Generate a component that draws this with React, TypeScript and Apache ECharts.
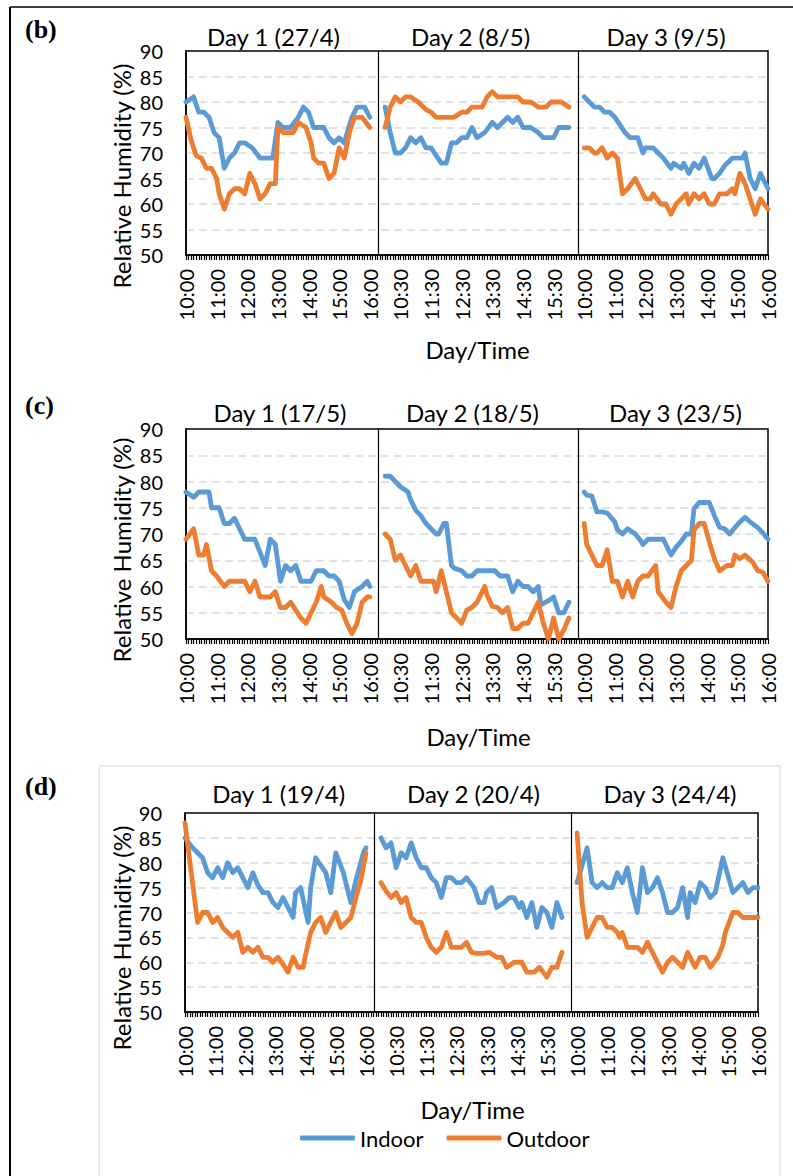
import React, { useEffect, useRef } from 'react';
import * as echarts from 'echarts';

// x positions are 5-minute slot indices on a shared axis:
// day 1 = 0..72 (10:00-16:00), day 2 = 78..150, day 3 = 156..228
const xTickLabels = ['10:00', '11:00', '12:00', '13:00', '14:00', '15:00', '16:00',
  '10:30', '11:30', '12:30', '13:30', '14:30', '15:30',
  '10:00', '11:00', '12:00', '13:00', '14:00', '15:00', '16:00'];
const seriesNames = ['Indoor', 'Outdoor'];
const titlesB = ['Day 1 (27/4)', 'Day 2 (8/5)', 'Day 3 (9/5)'];
const titlesC = ['Day 1 (17/5)', 'Day 2 (18/5)', 'Day 3 (23/5)'];
const titlesD = ['Day 1 (19/4)', 'Day 2 (20/4)', 'Day 3 (24/4)'];
const dividers = [75.5, 153.5];

// ---------- (b) ----------
const bIn1 = [[0,80],[3,81],[5,78],[7,78],[9,77],[11,74],[13,73],[15,67],[17,69],[19,70],[21,72],[23,72],[26,71],[29,69],[34,69],[36,76],[38,75],[41,75],[44,77],[46,79],[48,78],[50,75],[54,75],[56,73],[58,72],[60,73],[62,72],[65,77],[67,79],[70,79],[72,77]];
const bOut1 = [[0,77],[2,72.5],[4,69.5],[6,69],[8,67],[10,67],[12,65],[13,62],[15,59],[17,62],[19,63],[21,63],[23,62],[25,66],[27,64],[29,61],[31,62],[33,64],[35,64],[36,75],[38,74],[42,74],[44,76],[47,75],[49,72],[50,69],[52,68],[54,68],[56,65],[58,66],[60,71],[62,69],[64,74],[66,77],[69,77],[72,75]];
const bIn2 = [[78,79],[80,74],[82,70],[84,70],[86,71],[88,73],[90,72],[92,73],[94,71],[96,71],[98,69.5],[100,68],[102,68],[104,72],[106,72],[108,73],[110,73],[112,75],[114,73],[117,74],[120,76],[122,75],[126,77],[128,76],[130,77],[132,75],[135,75],[138,74],[140,73],[144,73],[146,75],[150,75]];
const bOut2 = [[78,75],[80,79],[82,81],[84,80],[86,81],[88,81],[91,80],[94,78.5],[96,78],[98,77],[105,77],[108,78],[110,78],[112,79],[116,79],[118,81],[120,82],[122,81],[130,81],[132,80],[135,80],[138,79],[141,79],[143,80],[147,80],[150,79]];
const bIn3 = [[156,81],[158,80],[160,79],[162,79],[164,78],[166,78],[168,77],[170,75.5],[172,74],[174,73],[177,73],[179,70],[180,71],[183,71],[185,70],[187,69],[190,67],[191,68],[194,67],[195,68],[197,66],[199,68],[201,67],[203,69],[206,65],[207,65],[209,66],[211,67.5],[214,69],[216,69],[218,69],[219,70],[221,65],[223,63],[225,66],[228,63]];
const bOut3 = [[156,71],[158,71],[160,70],[161,70],[163,71],[165,69],[167,70],[169,69],[171,62],[173,63],[176,65],[178,63],[180,61],[182,61],[183,62],[186,60],[188,60],[190,58],[192,60],[194,61],[196,62],[197,60],[199,62],[201,61],[203,62],[205,60],[207,60],[209,62],[212,62],[214,63],[215,62],[217,66],[219,64],[221,61],[223,58],[225,61],[228,59]];

// ---------- (c) ----------
const cIn1 = [[0,78],[3,77],[5,78],[9,78],[10,75],[13,75],[15,72],[17,72],[19,73],[21,71],[23,69],[27,69],[29,66.5],[31,64],[33,69],[35,68],[37,61],[39,64],[41,63],[43,64],[45,61],[49,61],[51,63],[54,63],[56,62],[58,62],[60,61],[62,57.5],[64,56],[66,59],[69,60],[71,61],[72,60]];
const cOut1 = [[0,69],[3,71],[5,66],[7,66],[8,68],[10,63],[12,62],[15,60],[17,61],[23,61],[25,59],[27,61],[29,58],[33,58],[35,59],[37,56],[39,56],[41,57],[43,55.5],[45,54],[47,53],[49,55],[51,57],[53,60],[54,58],[57,57],[59,56],[61,55.5],[63,53],[65,51],[67,53],[69,57],[71,58],[72,58]];
const cIn2 = [[78,81],[80,81],[82,80],[84,79],[87,78],[88,76.5],[90,74.5],[92,73.5],[94,72],[96,71],[98,70],[99,70],[101,72],[102,72],[104,64],[105,63.5],[108,63],[110,62],[112,62],[114,63],[121,63],[123,62],[126,62],[128,59],[130,61],[132,60],[134,60],[136,59],[138,60],[139,56.5],[142,57.3],[144,58],[146,55],[148,55],[150,57]];
const cOut2 = [[78,70],[80,69],[82,65],[84,66],[86,64],[88,62],[90,64],[92,61],[97,61],[98,59],[100,63],[102,59],[104,55],[106,54],[108,53],[110,55.5],[112,56],[114,57],[117,60],[118,58.3],[120,56.2],[122,56],[124,55],[126,56],[128,52],[130,52],[132,53],[134,53],[136,55],[138,57],[140,53],[142,50],[144,54],[146,50],[148,51.7],[150,54]];
const cIn3 = [[156,78],[157,77.4],[159,77.2],[161,74.2],[163,74.2],[165,74],[168,72.3],[169,70.8],[171,70],[173,71],[176,70],[178,68.8],[179,68],[181,69],[187,69],[190,66],[192,67.5],[194,68.6],[196,70],[198,70],[199,74.8],[201,76],[205,76],[207,73.5],[209,71.3],[211,71],[213,70],[215,71.2],[217,72.3],[219,73.2],[221,72.3],[224,71.2],[226,70.2],[228,69]];
const cOut3 = [[156,72],[157,68],[159,66],[161,64],[163,64],[165,67],[167,61],[169,61],[171,58],[173,61],[175,58],[177,61],[179,62],[181,62],[184,64],[185,59],[188,57],[190,56],[192,60],[194,63],[196,64],[198,65],[199,70.7],[201,72],[203,72],[205,68.5],[207,65.3],[209,63],[212,64],[214,64],[215,66],[217,65.3],[219,66],[222,64.6],[224,63],[226,62.7],[228,61]];

// ---------- (d) ----------
const dIn1 = [[0,85],[3,83],[5,82],[7,81],[9,78],[11,77],[13,79],[15,77],[17,80],[19,78],[21,79],[23,77],[25,75],[27,78],[29,75.5],[31,74],[33,74],[35,72],[37,71],[39,73],[41,71],[43,69],[44,74],[46,75],[49,68],[50,75],[52,81],[54,79.5],[56,78],[58,74],[60,82],[63,78],[66,72],[68,76.5],[71,82],[72,83]];
const dOut1 = [[0,88],[5,68],[7,70],[9,70],[11,68],[13,69],[15,67],[17,66],[19,65],[21,66],[23,62],[25,63],[27,62],[29,63],[31,61],[33,61],[35,60],[37,61],[39,59.6],[41,58],[43,61],[45,59],[47,59],[48,61.5],[50,66],[52,68],[54,69],[56,66],[58,68],[60,70],[62,67],[64,68],[66,69],[68,73],[70,76.5],[72,82]];
const dIn2 = [[78,85],[80,83],[82,84],[84,79],[86,82],[88,81],[90,84],[92,81],[94,79],[96,79],[98,77],[100,76],[102,73],[104,77],[106,77],[108,76],[110,76],[112,77],[115,75],[117,72],[119,72],[120,74],[122,75],[124,71],[127,72],[129,73],[131,73],[133,71],[134,72],[136,69],[138,72],[140,67],[142,71],[144,70],[146,67],[148,72],[150,69]];
const dOut2 = [[78,76],[80,74.3],[82,73],[84,74],[86,72],[88,73],[90,69],[92,68],[94,68],[96,65],[98,63],[100,62],[102,63],[104,66],[106,63],[110,63],[112,64],[114,62],[116,61.8],[119,61.8],[121,62],[124,61],[126,61],[128,59],[131,60],[134,60],[136,58],[139,58],[141,59],[144,57],[146,59],[148,59],[150,62]];
const dIn3 = [[156,76],[158,79.5],[160,83],[162,76],[164,75],[166,76],[168,75],[170,75],[172,78],[174,76],[176,79],[178,74],[180,70],[182,79],[184,74],[186,75],[188,77],[190,74],[192,70],[194,70],[196,71],[198,75],[200,69],[201,74],[203,72],[205,76],[207,75],[209,73],[211,74],[214,81],[216,77.5],[218,74],[220,75],[222,76],[224,74],[226,75],[228,75]];
const dOut3 = [[156,86],[158,72],[160,65],[162,67],[164,69],[166,69],[168,67],[170,67],[172,66],[173,65],[174,66],[176,63],[180,63],[182,62],[184,64],[186,62],[188,60],[190,58],[192,60],[194,61],[196,60],[198,59],[200,62],[202,60],[203,59],[205,61],[207,61],[209,59],[212,61],[214,63.5],[215,66],[218,70],[220,70],[222,69],[228,69]];

const BLUE = '#5B9BD5';
const ORANGE = '#ED7D31';
const FONT = 'Lato, "Open Sans", sans-serif';

const panels = [
  { label: '(b)', labelY: 29, grid: { left: 186, top: 51, width: 582, height: 204 }, titles: titlesB, titleX: [273.5, 470.5, 666], titleY: 36, yName: [121, 176], xName: [477.5, 349], indoor: [bIn1, bIn2, bIn3], outdoor: [bOut1, bOut2, bOut3] },
  { label: '(c)', labelY: 405, grid: { left: 186, top: 429, width: 582, height: 210 }, titles: titlesC, titleX: [280, 472.5, 675.5], titleY: 412, yName: [121, 550], xName: [478.5, 736], indoor: [cIn1, cIn2, cIn3], outdoor: [cOut1, cOut2, cOut3] },
  { label: '(d)', labelY: 786, grid: { left: 185, top: 813, width: 573, height: 199 }, titles: titlesD, titleX: [278.7, 473.5, 670], titleY: 793.5, yName: [121, 938], xName: [472.5, 1109], indoor: [dIn1, dIn2, dIn3], outdoor: [dOut1, dOut2, dOut3] },
];

function txt(x: number, y: number, text: string, font: string, rotation = 0, align = 'center') {
  return {
    type: 'text', x, y, rotation, silent: true,
    style: { text, font, fill: '#000', align, verticalAlign: 'middle', textAlign: align, textVerticalAlign: 'middle' },
  };
}

export default function App() {
  const ref = useRef<HTMLDivElement>(null);
  useEffect(() => {
    const chart = echarts.init(ref.current!, null, { renderer: 'svg' });
    const grids: any[] = [];
    const xAxes: any[] = [];
    const yAxes: any[] = [];
    const series: any[] = [];
    const graphics: any[] = [];

    graphics.push({ type: 'rect', shape: { x: 99, y: 766, width: 681, height: 430 }, style: { fill: 'none', stroke: '#d9d9d9', lineWidth: 1 }, silent: true, z: -1 });
    graphics.push({ type: 'line', shape: { x1: 10, y1: 7, x2: 793, y2: 7 }, style: { stroke: '#000', lineWidth: 1.5 }, silent: true });
    graphics.push({ type: 'line', shape: { x1: 10, y1: 7, x2: 10, y2: 1176 }, style: { stroke: '#000', lineWidth: 2 }, silent: true });

    panels.forEach((p, i) => {
      grids.push({ ...p.grid, show: true, borderColor: '#000', borderWidth: 1.5, backgroundColor: 'transparent' });
      xAxes.push({
        type: 'value', gridIndex: i, min: 0, max: 228, interval: 12,
        axisLine: { show: true, onZero: false, lineStyle: { color: '#000', width: 1.5 } },
        axisTick: { show: true, length: 5, lineStyle: { color: '#000', width: 1.2 } },
        minorTick: { show: true, splitNumber: 12, length: 5, lineStyle: { color: '#000', width: 1.2 } },
        splitLine: { show: false }, minorSplitLine: { show: false },
        axisLabel: {
          rotate: 90, margin: 14, fontSize: 20, fontFamily: FONT, color: '#000',
          formatter: (v: number) => xTickLabels[Math.round(v / 12)] ?? '',
        },
      });
      yAxes.push({
        type: 'value', gridIndex: i, min: 50, max: 90, interval: 5,
        axisLine: { show: true, lineStyle: { color: '#000', width: 1.5 } },
        axisTick: { show: false },
        axisLabel: { fontSize: 20, fontFamily: FONT, color: '#000', margin: 23 },
        splitLine: { show: true, showMinLine: false, showMaxLine: false, lineStyle: { color: '#d9d9d9', width: 1.5, type: [8, 5] } },
      });
      for (let d = 0; d < 3; d++) {
        [p.indoor[d], p.outdoor[d]].forEach((data, k) => {
          const s: any = {
            name: seriesNames[k], type: 'line', xAxisIndex: i, yAxisIndex: i, data,
            symbol: 'none', showSymbol: false, silent: true,
            lineStyle: { color: k === 0 ? BLUE : ORANGE, width: 4.8, cap: 'round', join: 'round' },
            itemStyle: { color: k === 0 ? BLUE : ORANGE },
            z: 3 + k,
          };
          if (d === 0 && k === 0) {
            s.markLine = {
              silent: true, symbol: 'none', label: { show: false },
              lineStyle: { color: '#000', width: 1.2, type: 'solid' },
              data: dividers.map((v) => ({ xAxis: v })),
            };
          }
          series.push(s);
        });
      }
      graphics.push(txt(25, p.labelY, p.label, 'bold 26px "Liberation Serif", "Times New Roman", serif', 0, 'left'));
      p.titles.forEach((t, d) => graphics.push(txt(p.titleX[d], p.titleY, t, `24px ${FONT}`)));
      graphics.push(txt(p.yName[0], p.yName[1], 'Relative Humidity (%)', `24px ${FONT}`, Math.PI / 2));
      graphics.push(txt(p.xName[0], p.xName[1], 'Day/Time', `24px ${FONT}`));
    });

    chart.setOption({
      animation: false,
      backgroundColor: '#fff',
      grid: grids, xAxis: xAxes, yAxis: yAxes, series,
      legend: {
        data: seriesNames, left: 300, top: 1127, padding: 0, itemGap: 23, itemWidth: 55, itemHeight: 5,
        icon: 'roundRect', textStyle: { fontSize: 22, fontFamily: FONT, color: '#000' }, selectedMode: false,
      },
      graphic: graphics,
    });
    return () => chart.dispose();
  }, []);
  return <div ref={ref} style={{ position: 'absolute', left: 0, top: 0, width: 793, height: 1176, background: '#fff' }} />;
}
